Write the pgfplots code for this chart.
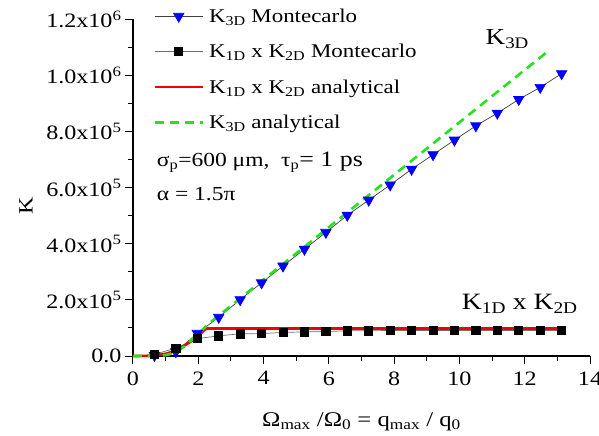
\documentclass[border=0pt]{standalone}
\usepackage{fontspec}
\setmainfont{Liberation Serif}[FakeStretch=1.18]
\usepackage{pgfplots}
\pgfplotsset{compat=1.18}
\definecolor{mcblue}{RGB}{0,0,255}
\definecolor{agreen}{RGB}{40,225,30}
\definecolor{ared}{RGB}{240,0,0}
\definecolor{mcgray}{RGB}{110,110,110}
\begin{document}
\begin{tikzpicture}
\useasboundingbox (-133bp,-80bp) rectangle (466bp,356bp);
\begin{axis}[
  at={(0,0)}, anchor=origin,
  scale only axis,
  width=457bp, height=336.5bp,
  xmin=0, xmax=14, ymin=0, ymax=1.2e6,
  axis lines*=left,
  axis line style={-, line width=1.1bp},
  tick align=outside,
  major tick length=8bp, minor tick length=4.5bp,
  tick style={black, line width=1bp},
  xtick={0,2,...,14}, minor xtick={1,3,...,13},
  ytick={0,200000,400000,600000,800000,1000000,1200000},
  minor ytick={100000,300000,500000,700000,900000,1100000},
  yticklabels={0.0, 2.0x10\textsuperscript{5}, 4.0x10\textsuperscript{5}, 6.0x10\textsuperscript{5}, 8.0x10\textsuperscript{5}, 1.0x10\textsuperscript{6}, 1.2x10\textsuperscript{6}},
  scaled y ticks=false,
  /pgf/number format/assume math mode=true,
  tick label style={font=\fontsize{20.5}{24}\selectfont},
  xticklabel style={yshift=-4bp},
  yticklabel style={xshift=0bp},
  xlabel={Ω\textsubscript{max} /Ω\textsubscript{0} = q\textsubscript{max} / q\textsubscript{0}},
  xlabel style={font=\fontsize{21}{24}\selectfont, at={(axis description cs:0.5,0)}, anchor=base, yshift=-70bp},
  ylabel={K},
  ylabel style={font=\fontsize{20.5}{24}\selectfont, at={(axis description cs:-0.234,0.446)}, anchor=center},
  clip=false,
  legend style={at={(axis cs:0.62,1.246e6)}, anchor=north west, draw=none, fill=none,
    font=\fontsize{19.5}{23}\selectfont, row sep=16.5bp, column sep=3bp, inner sep=0pt, cells={anchor=west}},
  legend image code/.code={\draw[mark repeat=2,mark phase=2,#1] plot coordinates {(0bp,0bp) (24bp,0bp) (48bp,0bp)};},
]
\addplot[black!75, line width=0.7bp, mark=triangle*, mark size=6bp,
  mark options={solid, fill=mcblue, draw=mcblue, rotate=180}] coordinates {
(0.657,2000) (1.313,15000) (1.970,81000) (2.626,138000) (3.283,201000)
(3.939,261000) (4.596,321000) (5.252,381000) (5.909,441000) (6.565,502000)
(7.222,556000) (7.878,610000) (8.535,666000) (9.191,718000) (9.848,770000)
(10.504,821000) (11.161,866000) (11.817,915000) (12.474,958000) (13.130,1007000)};
\addlegendentry{K\textsubscript{3D} Montecarlo}
\addplot[mcgray, line width=0.7bp, mark=square*, mark size=4.1bp,
  mark options={solid, fill=black, draw=black}] coordinates {
(0.657,6000) (1.313,28000) (1.970,62000) (2.626,72000) (3.283,79000)
(3.939,80000) (4.596,84000) (5.252,86000) (5.909,87000) (6.565,90000)
(7.222,90000) (7.878,91000) (8.535,91000) (9.191,91000) (9.848,91000)
(10.504,91000) (11.161,91000) (11.817,91000) (12.474,91000) (13.130,91000)};
\addlegendentry{K\textsubscript{1D} x K\textsubscript{2D} Montecarlo}
\addplot[ared, line width=2.6bp, smooth, tension=0.3] coordinates {
(0,0) (0.4,500) (0.7,3000) (1.0,8000) (1.25,17000) (1.5,32000) (1.75,50000)
(1.95,68000) (2.1,83000) (2.2,94000) (2.25,97000)};
\addlegendentry{K\textsubscript{1D} x K\textsubscript{2D} analytical}
\addplot[ared, line width=2.6bp, forget plot] coordinates {(2.25,97000) (13.1,97000)};
\addplot[agreen, line width=2.6bp, dash pattern=on 9bp off 6bp] coordinates {
(0,0) (0.6,0) (0.8,500) (1.0,3000) (1.2,9000) (1.4,20000) (1.6,36000) (1.8,58000)
(2.0,80000) (2.2,102000) (2.4,122700) (3.0,179000) (12.78,1093000)};
\addlegendentry{K\textsubscript{3D} analytical}
\node[anchor=base west, font=\fontsize{20}{24}\selectfont, inner sep=0pt] at (axis cs:0.726,675000)
  {σ\textsubscript{p}=600 μm,\ \ τ\textsubscript{p}{\fontsize{22}{26}\selectfont= 1 ps}};
\node[anchor=base west, font=\fontsize{20}{24}\selectfont, inner sep=0pt] at (axis cs:0.726,554000)
  {α = 1.5π};
\node[anchor=base west, font=\fontsize{23}{28}\selectfont, inner sep=0pt] at (axis cs:10.8,1111000)
  {K\textsubscript{3D}};
\node[anchor=base west, font=\fontsize{23.5}{28}\selectfont, inner sep=0pt] at (axis cs:10.07,165000)
  {K\textsubscript{1D} x K\textsubscript{2D}};
\end{axis}
\end{tikzpicture}
\end{document}
